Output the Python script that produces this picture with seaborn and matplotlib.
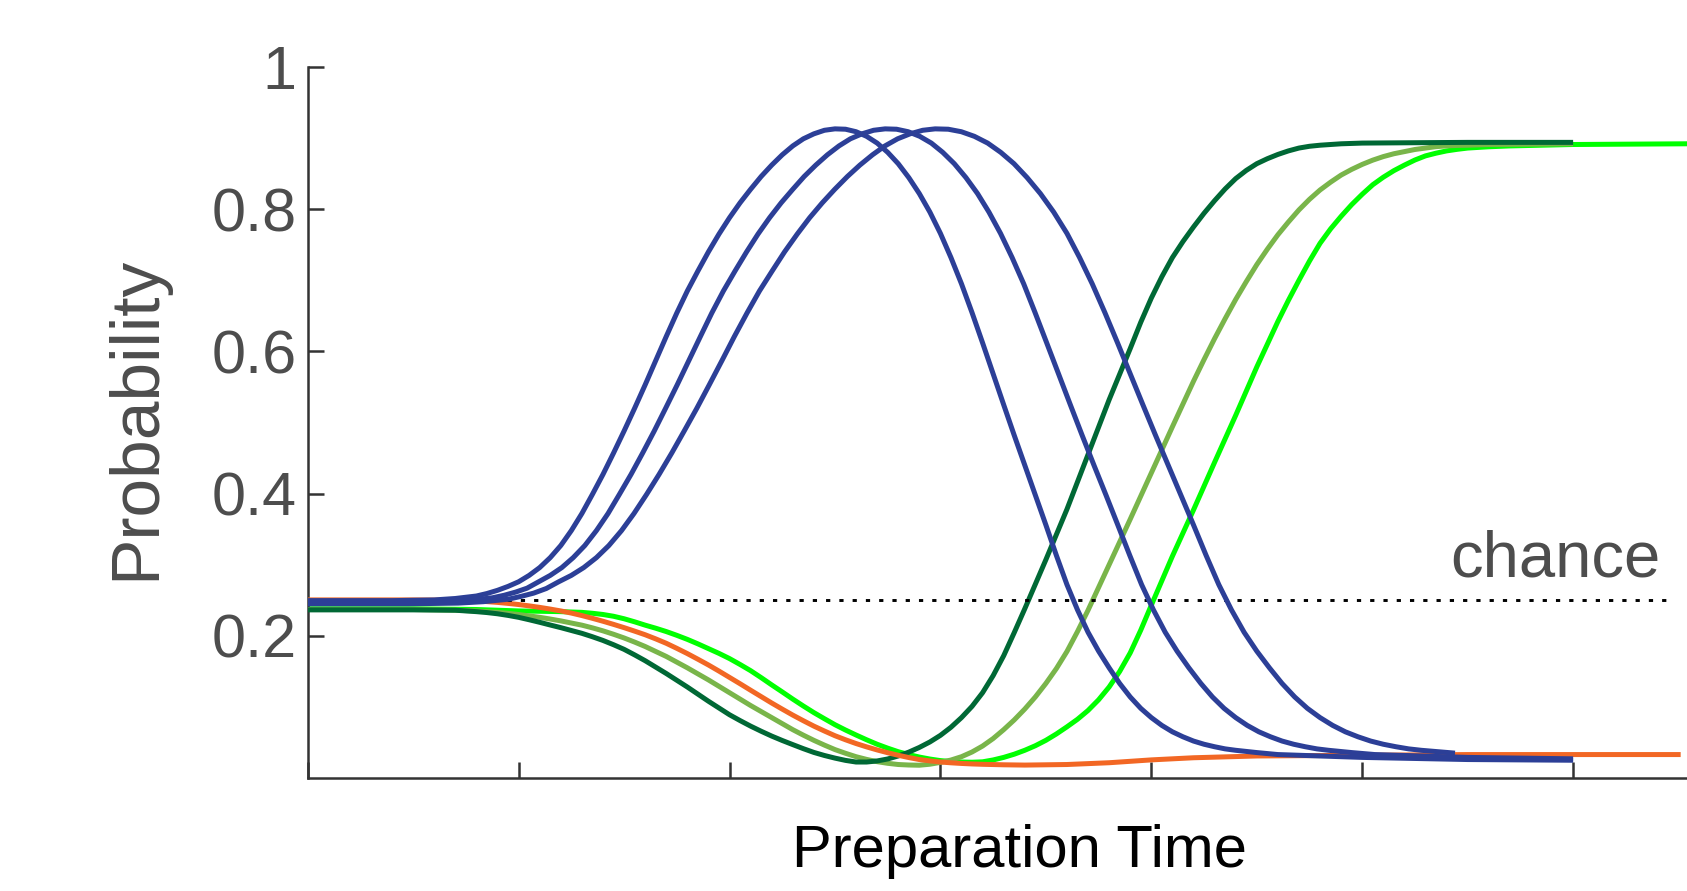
import matplotlib
matplotlib.use("Agg")
import matplotlib.pyplot as plt
import seaborn as sns


# ---- values (x in tick units, y = probability) ----
# the three blue bumps share one shape, each one stretched further in time
BLUE1_X = [0, 0.4, 0.6, 0.7,
           0.8, 0.85, 0.9, 0.95, 1.0, 1.05, 1.1, 1.15, 1.2, 1.25,
           1.3, 1.35, 1.4, 1.45, 1.5, 1.55, 1.6, 1.65, 1.7, 1.75,
           1.8, 1.85, 1.9, 1.95, 2.0, 2.05, 2.1, 2.15, 2.2, 2.25,
           2.3, 2.35, 2.4, 2.45, 2.5, 2.55, 2.6, 2.65, 2.7, 2.75,
           2.8, 2.85, 2.9, 2.95, 3.0, 3.05, 3.1, 3.15, 3.2, 3.25,
           3.3, 3.35, 3.4, 3.45, 3.5, 3.55, 3.6, 3.65, 3.7, 3.75,
           3.8, 3.85, 3.9, 3.95, 4.0, 4.05, 4.1, 4.15, 4.2, 4.25,
           4.3, 4.35, 4.4, 4.5, 4.6, 5.0, 5.5, 6.0]
BLUE2_X = [0, 0.44, 0.66, 0.77,
           0.876, 0.931, 0.986, 1.040, 1.095, 1.150, 1.205, 1.259, 1.314, 1.369,
           1.424, 1.478, 1.533, 1.588, 1.643, 1.697, 1.752, 1.807, 1.862, 1.916,
           1.971, 2.026, 2.081, 2.135, 2.19, 2.245, 2.30, 2.354, 2.409, 2.464,
           2.519, 2.573, 2.628, 2.683, 2.738, 2.792, 2.847, 2.902, 2.957, 3.011,
           3.066, 3.121, 3.176, 3.230, 3.285, 3.340, 3.395, 3.449, 3.504, 3.560,
           3.616, 3.672, 3.728, 3.785, 3.841, 3.898, 3.954, 4.010, 4.066, 4.122,
           4.178, 4.235, 4.29, 4.345, 4.40, 4.455, 4.51, 4.565, 4.62, 4.675,
           4.73, 4.785, 4.84, 4.95, 5.06, 5.5, 6.0]
BLUE3_X = [0, 0.476, 0.714, 0.833,
           0.952, 1.012, 1.071, 1.131, 1.19, 1.25, 1.309, 1.369, 1.428, 1.488,
           1.547, 1.607, 1.666, 1.726, 1.785, 1.845, 1.904, 1.964, 2.023, 2.083,
           2.142, 2.202, 2.261, 2.321, 2.38, 2.44, 2.499, 2.559, 2.618, 2.678,
           2.737, 2.797, 2.856, 2.916, 2.975, 3.037, 3.099, 3.161, 3.224, 3.286,
           3.349, 3.411, 3.474, 3.537, 3.60, 3.66, 3.72, 3.78, 3.84, 3.90,
           3.96, 4.02, 4.08, 4.14, 4.20, 4.26, 4.32, 4.38, 4.44, 4.50,
           4.56, 4.62, 4.68, 4.74, 4.80, 4.86, 4.92, 4.98, 5.04, 5.10,
           5.16, 5.22, 5.28, 5.44]

BLUE_BUMP_Y = [0.276, 0.285, 0.296, 0.310, 0.327, 0.348,
               0.372, 0.399, 0.427, 0.457, 0.488, 0.520, 0.553, 0.587, 0.621, 0.654,
               0.685, 0.713, 0.740, 0.765, 0.788, 0.809, 0.828, 0.846, 0.862, 0.8765,
               0.889, 0.899, 0.906, 0.911, 0.913, 0.9125, 0.909, 0.9025, 0.893, 0.880,
               0.864, 0.8445, 0.822, 0.796, 0.766, 0.732, 0.695, 0.6545, 0.612, 0.5685,
               0.525, 0.482, 0.44, 0.398, 0.356, 0.313, 0.272, 0.2365, 0.205, 0.1785,
               0.155, 0.133, 0.114, 0.098, 0.085, 0.074, 0.065, 0.058, 0.052, 0.0475]
BLUE1_Y = ([0.2495, 0.2495, 0.2505, 0.2525, 0.256, 0.2595, 0.264, 0.2695]
           + BLUE_BUMP_Y + [0.044, 0.041, 0.039, 0.0358, 0.033, 0.029, 0.026, 0.025])
BLUE2_Y = ([0.247, 0.247, 0.248, 0.250, 0.2535, 0.257, 0.2615, 0.267]
           + BLUE_BUMP_Y + [0.044, 0.041, 0.039, 0.0358, 0.033, 0.029, 0.027])
BLUE3_Y = ([0.245, 0.245, 0.246, 0.248, 0.2515, 0.2555, 0.260, 0.2665]
           + BLUE_BUMP_Y + [0.044, 0.041, 0.039, 0.035])

DARK_X = [0, 0.5, 0.7,
          0.8, 0.85, 0.9, 0.95, 1.0, 1.05, 1.1, 1.15, 1.2, 1.25,
          1.3, 1.35, 1.4, 1.45, 1.5, 1.55, 1.6, 1.65, 1.7, 1.75,
          1.8, 1.85, 1.9, 1.95, 2.0, 2.05, 2.1, 2.15, 2.2, 2.25,
          2.3, 2.35, 2.4, 2.45, 2.5, 2.55, 2.6, 2.65, 2.7, 2.75,
          2.8, 2.85, 2.9, 2.95, 3.0, 3.05, 3.1, 3.15, 3.2, 3.25,
          3.3, 3.35, 3.4, 3.45, 3.5, 3.55, 3.6, 3.65, 3.7, 3.75,
          3.8, 3.85, 3.9, 3.95, 4.0, 4.05, 4.1, 4.15, 4.2, 4.25,
          4.3, 4.35, 4.4, 4.45, 4.5, 4.55, 4.6, 4.65, 4.7, 4.75,
          4.8, 4.9, 5.0, 5.5, 6.0]
DARK_Y = [0.2365, 0.2365, 0.236,
          0.234, 0.2327, 0.231, 0.2287, 0.226, 0.2226, 0.219, 0.2152, 0.2115, 0.2075,
          0.2035, 0.1987, 0.1935, 0.1875, 0.181, 0.1732, 0.165, 0.156, 0.147, 0.1375,
          0.128, 0.118, 0.108, 0.0985, 0.089, 0.0808, 0.073, 0.0658, 0.059, 0.0528,
          0.047, 0.0413, 0.036, 0.0317, 0.028, 0.0248, 0.0225, 0.0225, 0.024, 0.0268,
          0.031, 0.0364, 0.043, 0.0507, 0.06, 0.0714, 0.085, 0.1008, 0.12, 0.144,
          0.172, 0.2045, 0.238, 0.2725, 0.307, 0.3425, 0.378, 0.4165, 0.455, 0.4935,
          0.532, 0.568, 0.604, 0.641, 0.675, 0.705, 0.732, 0.7545, 0.775, 0.7943,
          0.812, 0.8285, 0.843, 0.8545, 0.864, 0.871, 0.877, 0.882, 0.886, 0.8885,
          0.89, 0.892, 0.893, 0.894, 0.894]

MID_X = [0, 0.5, 0.7,
         0.8, 0.85, 0.9, 0.95, 1.0, 1.05, 1.1, 1.15, 1.2, 1.25,
         1.3, 1.35, 1.4, 1.45, 1.5, 1.55, 1.6, 1.65, 1.7, 1.75,
         1.8, 1.85, 1.9, 1.95, 2.0, 2.05, 2.1, 2.15, 2.2, 2.25,
         2.3, 2.35, 2.4, 2.45, 2.5, 2.55, 2.6, 2.65, 2.7, 2.75,
         2.8, 2.85, 2.9, 2.95, 3.0, 3.05, 3.1, 3.15, 3.2, 3.25,
         3.3, 3.35, 3.4, 3.45, 3.5, 3.55, 3.6, 3.65, 3.7, 3.75,
         3.8, 3.85, 3.9, 3.95, 4.0, 4.05, 4.1, 4.15, 4.2, 4.25,
         4.3, 4.35, 4.4, 4.45, 4.5, 4.55, 4.6, 4.65, 4.7, 4.75,
         4.8, 4.85, 4.9, 4.95, 5.0, 5.05, 5.1, 5.15, 5.2, 5.25,
         5.3, 5.35, 5.4, 5.45, 5.5, 5.6, 6.0]
MID_Y = [0.237, 0.237, 0.236,
         0.235, 0.234, 0.233, 0.2316, 0.23, 0.228, 0.226, 0.2236, 0.221, 0.218,
         0.215, 0.2112, 0.207, 0.2022, 0.197, 0.1912, 0.185, 0.178, 0.171, 0.163,
         0.155, 0.1465, 0.138, 0.129, 0.12, 0.111, 0.102, 0.0935, 0.085, 0.0765,
         0.068, 0.0603, 0.053, 0.0463, 0.04, 0.0348, 0.03, 0.0262, 0.023, 0.0207,
         0.019, 0.0183, 0.018, 0.0194, 0.022, 0.0253, 0.03, 0.0366, 0.045, 0.0555,
         0.068, 0.0817, 0.097, 0.114, 0.133, 0.154, 0.178, 0.206, 0.236, 0.268,
         0.300, 0.332, 0.364, 0.3965, 0.429, 0.4615, 0.494, 0.526, 0.558, 0.5885,
         0.618, 0.646, 0.673, 0.698, 0.722, 0.7437, 0.764, 0.782, 0.799, 0.8139,
         0.827, 0.838, 0.848, 0.856, 0.863, 0.869, 0.874, 0.878, 0.881, 0.884,
         0.886, 0.888, 0.889, 0.8897, 0.890, 0.891, 0.892]

LIGHT_X = [0, 0.5, 0.8, 1.0, 1.2,
           1.3, 1.35, 1.4, 1.45, 1.5, 1.55, 1.6, 1.65, 1.7, 1.75,
           1.8, 1.85, 1.9, 1.95, 2.0, 2.05, 2.1, 2.15, 2.2, 2.25,
           2.3, 2.35, 2.4, 2.45, 2.5, 2.55, 2.6, 2.65, 2.7, 2.75,
           2.8, 2.85, 2.9, 2.95, 3.0, 3.05, 3.1, 3.15, 3.2, 3.25,
           3.3, 3.35, 3.4, 3.45, 3.5, 3.55, 3.6, 3.65, 3.7, 3.75,
           3.8, 3.85, 3.9, 3.95, 4.0, 4.05, 4.1, 4.15, 4.2, 4.25,
           4.3, 4.35, 4.4, 4.45, 4.5, 4.55, 4.6, 4.65, 4.7, 4.75,
           4.8, 4.85, 4.9, 4.95, 5.0, 5.05, 5.1, 5.15, 5.2, 5.25,
           5.3, 5.35, 5.4, 5.45, 5.5, 5.6, 5.7, 6.0, 6.8]
LIGHT_Y = [0.238, 0.238, 0.237, 0.235, 0.234,
           0.233, 0.2317, 0.23, 0.2275, 0.224, 0.2197, 0.215, 0.2107, 0.206, 0.2007,
           0.195, 0.1887, 0.182, 0.1753, 0.168, 0.1597, 0.151, 0.1412, 0.131, 0.1211,
           0.111, 0.1013, 0.092, 0.0834, 0.075, 0.0675, 0.0605, 0.0538, 0.0475, 0.042,
           0.037, 0.033, 0.0295, 0.0267, 0.0245, 0.0232, 0.0225, 0.0222, 0.0228, 0.0254,
           0.029, 0.0335, 0.039, 0.0454, 0.053, 0.062, 0.072, 0.0826, 0.095, 0.110,
           0.128, 0.1499, 0.176, 0.208, 0.243, 0.2775, 0.312, 0.3445, 0.377, 0.4105,
           0.444, 0.477, 0.51, 0.544, 0.578, 0.610, 0.642, 0.6718, 0.700, 0.7271,
           0.752, 0.7723, 0.790, 0.8064, 0.821, 0.8344, 0.845, 0.8542, 0.862, 0.8692,
           0.875, 0.8788, 0.882, 0.8842, 0.886, 0.8878, 0.889, 0.891, 0.8925]

ORANGE_X = [0, 0.5, 0.7,
            0.75, 0.8, 0.85, 0.9, 0.95, 1.0, 1.05, 1.1, 1.15, 1.2,
            1.25, 1.3, 1.35, 1.4, 1.45, 1.5, 1.55, 1.6, 1.65, 1.7,
            1.75, 1.8, 1.85, 1.9, 1.95, 2.0, 2.05, 2.1, 2.15, 2.2,
            2.25, 2.3, 2.35, 2.4, 2.45, 2.5, 2.55, 2.6, 2.65, 2.7,
            2.75, 2.8, 2.85, 2.9, 2.95, 3.0, 3.05, 3.1, 3.15, 3.2,
            3.3, 3.4, 3.6, 3.8, 4.0, 4.2, 4.5, 5.0, 5.5, 6.51]
ORANGE_Y = [0.2505, 0.2505, 0.25,
            0.2496, 0.249, 0.2481, 0.247, 0.2456, 0.244, 0.2421, 0.24, 0.2376, 0.235,
            0.232, 0.2285, 0.2246, 0.2205, 0.2161, 0.2115, 0.2066, 0.2015, 0.1957, 0.1895,
            0.1824, 0.175, 0.1671, 0.159, 0.1504, 0.1415, 0.1326, 0.1235, 0.1145, 0.1055,
            0.0969, 0.0885, 0.0806, 0.073, 0.0661, 0.0595, 0.0538, 0.0485, 0.0438, 0.0395,
            0.0356, 0.032, 0.0288, 0.026, 0.0241, 0.0225, 0.0214, 0.0205, 0.0198, 0.0193,
            0.0186, 0.0182, 0.019, 0.0215, 0.0255, 0.0285, 0.031, 0.032, 0.033, 0.033]

CHANCE_X = [0, 6.47]
CHANCE_Y = [0.25, 0.25]

Y_TICKS = [0.2, 0.4, 0.6, 0.8, 1.0]
Y_TICK_LABELS = ["0.2", "0.4", "0.6", "0.8", "1"]
X_TICKS = [0, 1, 2, 3, 4, 5, 6]

BLUE = '#2C3F97'
DARK_GREEN = '#006835'
MID_GREEN = '#79B54A'
LIGHT_GREEN = '#00FF00'
ORANGE = '#F26724'
GREY = '#4D4D4D'
LW = 3.6


def draw_curve(ax, xs, ys, color, z):
    sns.lineplot(x=xs, y=ys, ax=ax, color=color, linewidth=LW, zorder=z,
                 sort=False, estimator=None, solid_capstyle='butt',
                 solid_joinstyle='round')


def make_plot():
    sns.set_theme(style='ticks')
    plt.rcParams['font.family'] = ['Liberation Sans', 'DejaVu Sans']

    fig = plt.figure(figsize=(16.87, 8.91), dpi=100)
    ax = fig.add_axes([0.1824, 0.1268, 0.8431, 0.798])

    draw_curve(ax, LIGHT_X, LIGHT_Y, LIGHT_GREEN, 2)
    draw_curve(ax, MID_X, MID_Y, MID_GREEN, 3)
    draw_curve(ax, DARK_X, DARK_Y, DARK_GREEN, 4)
    draw_curve(ax, ORANGE_X, ORANGE_Y, ORANGE, 5)
    sns.lineplot(x=CHANCE_X, y=CHANCE_Y, ax=ax, color='black', linewidth=2.1,
                 linestyle=(0, (1.45, 3.1)), zorder=6)
    draw_curve(ax, BLUE3_X, BLUE3_Y, BLUE, 7)
    draw_curve(ax, BLUE2_X, BLUE2_Y, BLUE, 8)
    draw_curve(ax, BLUE1_X, BLUE1_Y, BLUE, 9)

    ax.text(5.416, 0.283, 'chance', fontsize=47, color=GREY, ha='left', va='baseline')

    ax.set_xlim(0, 6.744)
    ax.set_ylim(0, 1)
    ax.set_xticks(X_TICKS)
    ax.set_xticklabels([])
    ax.set_yticks(Y_TICKS)
    ax.set_yticklabels(Y_TICK_LABELS)
    ax.tick_params(direction='in', length=11.5, width=1.8, color='#333333',
                   labelsize=44, labelcolor=GREY, pad=8)
    for side in ['top', 'right']:
        ax.spines[side].set_visible(False)
    for side in ['left', 'bottom']:
        ax.spines[side].set_linewidth(1.8)
        ax.spines[side].set_color('#333333')

    ax.set_ylabel('Probability', fontsize=50, color=GREY)
    ax.yaxis.set_label_coords(-0.098, 0.506)
    ax.set_xlabel('Preparation Time', fontsize=43, color='black')
    ax.xaxis.set_label_coords(0.5001, -0.0645)

    fig.savefig('out.png', dpi=100)


if __name__ == "__main__":
    make_plot()
